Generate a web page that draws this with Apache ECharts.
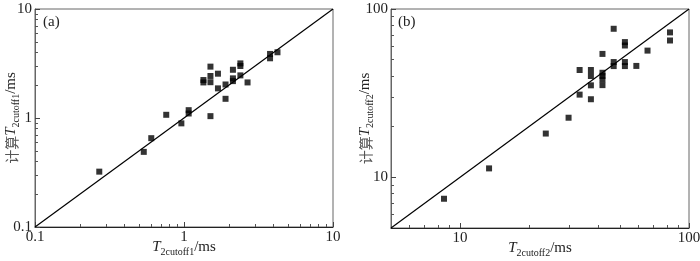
<!DOCTYPE html>
<html>
<head>
<meta charset="utf-8">
<script src="https://cdn.jsdelivr.net/npm/echarts@6/dist/echarts.min.js"></script>
<style>
  html, body { margin: 0; padding: 0; background: #fff; }
  #chart { width: 700px; height: 261px; }
</style>
</head>
<body>
<div id="chart"></div>
<script>
// (a) T2cutoff1: measured vs calculated
var xA = [0.27, 0.537, 0.603, 0.76, 0.96, 1.075, 1.075, 1.35, 1.35, 1.505, 1.505, 1.505, 1.505,
          1.69, 1.69, 1.9, 1.9, 2.13, 2.13, 2.13, 2.39, 2.39, 2.39, 2.67, 3.78, 3.78, 4.24];
var yA = [0.322, 0.489, 0.653, 1.07, 0.893, 1.18, 1.10, 2.23, 2.12, 2.96, 2.43, 2.13, 1.04,
          2.55, 1.87, 2.03, 1.50, 2.77, 2.31, 2.18, 3.17, 3.0, 2.46, 2.12, 3.87, 3.53, 4.01];
// (b) T2cutoff2
var xB = [8.52, 13.4, 23.7, 29.8, 33.3, 33.3, 37.3, 37.3, 37.3, 37.3, 41.9, 41.9, 41.9, 41.9, 41.9,
          46.9, 46.9, 46.9, 52.5, 52.5, 52.5, 52.5, 58.9, 65.9, 82.6, 82.6];
var yB = [7.46, 11.3, 18.2, 22.6, 43.4, 31.0, 43.4, 40.0, 35.2, 29.1, 54.1, 41.8, 40.0, 38.2, 35.3,
          76.3, 48.4, 45.8, 63.6, 60.7, 48.4, 45.8, 45.9, 56.6, 72.6, 65.0];

// 1:1 lines
var diagA = [0.1, 10];
var diagB = [5, 100];

var majorA = [0.1, 1, 10];
var minorA = [0.2, 0.3, 0.4, 0.5, 0.6, 0.7, 0.8, 0.9, 2, 3, 4, 5, 6, 7, 8, 9];
var majorB = [10, 100];
var minorB = [6, 7, 8, 9, 20, 30, 40, 50, 60, 70, 80, 90];

var serif = 'Liberation Serif';
var nameRich = {
  cn: { fontFamily: 'Noto Sans CJK SC', fontSize: 14, color: '#555' },
  t: { fontFamily: serif, fontStyle: 'italic', fontSize: 15, color: '#222' },
  sub: { fontFamily: serif, fontSize: 10, color: '#222', padding: [9, 0, 0, 0] },
  u: { fontFamily: serif, fontSize: 15, color: '#222' }
};

function pairs(xs, ys) {
  var out = [];
  for (var i = 0; i < xs.length; i++) out.push([xs[i], ys[i]]);
  return out;
}

function majorAxis(grid, min, max, majors, name, gap, isY) {
  return {
    type: 'log', gridIndex: grid, min: min, max: max,
    position: isY ? 'left' : 'bottom',
    name: name, nameLocation: 'middle', nameGap: gap, nameMoveOverlap: false,
    nameRotate: isY ? 90 : 0,
    nameTextStyle: { rich: nameRich },
    axisLine: { show: true, lineStyle: { color: isY ? '#666' : '#222', width: 1 } },
    axisTick: { show: true, inside: true, length: 5, customValues: majors, lineStyle: { color: '#444', width: 1 } },
    axisLabel: {
      customValues: majors, fontFamily: serif, fontSize: 15, color: '#222', margin: 3,
      formatter: function (v) { return String(+v.toPrecision(3)); }
    },
    splitLine: { show: false }
  };
}

function minorAxis(grid, min, max, minors, isY) {
  return {
    type: 'log', gridIndex: grid, min: min, max: max,
    position: isY ? 'left' : 'bottom',
    axisLine: { show: false },
    axisTick: { show: true, inside: true, length: 3, customValues: minors, lineStyle: { color: '#555', width: 1 } },
    axisLabel: { show: false },
    splitLine: { show: false }
  };
}

var chart = echarts.init(document.getElementById('chart'));
chart.setOption({
  animation: false,
  title: [
    { text: '(a)', left: 43, top: 15, padding: 0, textStyle: { fontFamily: serif, fontSize: 15, fontWeight: 'normal', color: '#222' } },
    { text: '(b)', left: 398, top: 15, padding: 0, textStyle: { fontFamily: serif, fontSize: 15, fontWeight: 'normal', color: '#222' } }
  ],
  grid: [
    { left: 35, top: 9, width: 298, height: 218, outerBoundsMode: 'none', containLabel: false,
      show: true, borderColor: '#666', borderWidth: 1 },
    { left: 391, top: 9, width: 298, height: 219, outerBoundsMode: 'none', containLabel: false,
      show: true, borderColor: '#666', borderWidth: 1 }
  ],
  xAxis: [
    majorAxis(0, 0.1, 10, majorA, '{t|T}{sub|2cutoff1}{u|/ms}', 11, false),
    minorAxis(0, 0.1, 10, minorA, false),
    majorAxis(1, 5, 100, majorB, '{t|T}{sub|2cutoff2}{u|/ms}', 11, false),
    minorAxis(1, 5, 100, minorB, false)
  ],
  yAxis: [
    majorAxis(0, 0.1, 10, majorA, '{cn|计算}{t|T}{sub|2cutoff1}{u|/ms}', 14, true),
    minorAxis(0, 0.1, 10, minorA, true),
    majorAxis(1, 5, 100, majorB, '{cn|计算}{t|T}{sub|2cutoff2}{u|/ms}', 16, true),
    minorAxis(1, 5, 100, minorB, true)
  ],
  series: [
    { type: 'line', xAxisIndex: 0, yAxisIndex: 0, data: pairs(diagA, diagA), symbol: 'none', silent: true,
      lineStyle: { color: '#000', width: 1.2 } },
    { type: 'scatter', xAxisIndex: 0, yAxisIndex: 0, data: pairs(xA, yA), symbol: 'rect', symbolSize: 6,
      itemStyle: { color: '#000' } },
    { type: 'line', xAxisIndex: 2, yAxisIndex: 2, data: pairs(diagB, diagB), symbol: 'none', silent: true,
      lineStyle: { color: '#000', width: 1.2 } },
    { type: 'scatter', xAxisIndex: 2, yAxisIndex: 2, data: pairs(xB, yB), symbol: 'rect', symbolSize: 6,
      itemStyle: { color: '#000' } }
  ]
});
</script>
</body>
</html>
